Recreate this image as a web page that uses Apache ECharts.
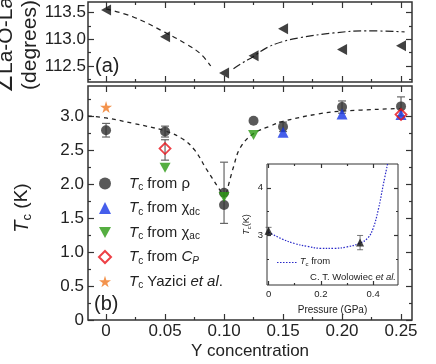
<!DOCTYPE html>
<html><head><meta charset="utf-8">
<script src="https://cdn.jsdelivr.net/npm/echarts@6/dist/echarts.min.js"></script>
<style>html,body{margin:0;padding:0;background:#fff}#c{width:436px;height:364px}</style>
</head><body><div id="c"></div><script>
// ---------- data ----------
const yConc = [0, 0.05, 0.1, 0.125, 0.15, 0.2, 0.25];
const angleVals = [113.55, 113.05, 112.37, 112.69, 113.2, 112.81, 112.88];
const angleFitLeftX = [0, 0.023, 0.05, 0.068, 0.08, 0.0887];
const angleFitLeftY = [113.57, 113.42, 113.13, 112.91, 112.73, 112.5];
const angleFitRightX = [0.108, 0.115, 0.125, 0.136, 0.15, 0.164, 0.193, 0.221, 0.253];
const angleFitRightY = [112.45, 112.55, 112.68, 112.84, 112.96, 113.03, 113.12, 113.16, 113.14];

const rhoX = [0, 0.05, 0.1, 0.1, 0.125, 0.15, 0.2, 0.25];
const rhoY = [2.79, 2.77, 1.87, 1.69, 2.93, 2.84, 3.13, 3.14];
const chiDcX = [0.15, 0.2, 0.25];
const chiDcY = [2.76, 3.03, 3.02];
const chiAcX = [0.05, 0.1, 0.125];
const chiAcY = [2.24, 1.81, 2.72];
const cpX = [0.05, 0.25];
const cpY = [2.52, 3.02];
const yazX = [0];
const yazY = [3.13];
const errX = [0, 0.05, 0.05, 0.1, 0.15, 0.2, 0.25];
const errLo = [2.69, 2.69, 2.35, 1.42, 2.77, 3.04, 3.0];
const errHi = [2.89, 2.85, 2.65, 2.32, 2.91, 3.22, 3.28];
const tcFitLeftX = [-0.0153, 0, 0.023, 0.05, 0.065, 0.075, 0.085, 0.095, 0.1];
const tcFitLeftY = [3.0, 2.97, 2.89, 2.78, 2.66, 2.5, 2.22, 1.95, 1.82];
const tcFitRightX = [0.102, 0.108, 0.114, 0.125, 0.139, 0.15, 0.18, 0.2, 0.25];
const tcFitRightY = [1.86, 2.25, 2.54, 2.74, 2.85, 2.92, 3.03, 3.07, 3.11];

const pressX = [0, 0.35];
const pressTc = [3.1, 2.85];
const pressErrLo = [3.02, 2.7];
const pressErrHi = [3.17, 3.0];
const pressCurveX = [0, 0.05, 0.1, 0.15, 0.2, 0.25, 0.3, 0.35, 0.38, 0.4, 0.42, 0.44, 0.455];
const pressCurveY = [3.07, 2.93, 2.83, 2.77, 2.73, 2.73, 2.76, 2.84, 2.95, 3.15, 3.55, 4.1, 4.5];

const xMajor = [0, 0.05, 0.1, 0.15, 0.2, 0.25];
const xMinor = [0.025, 0.075, 0.125, 0.175, 0.225];
const xLabels = ['0', '0.05', '0.10', '0.15', '0.20', '0.25'];
const angMajor = [112.5, 113.0, 113.5];
const angMinor = [112.25, 112.75, 113.25];
const angLabels = ['112.5', '113.0', '113.5'];
const tcMajor = [0, 0.5, 1.0, 1.5, 2.0, 2.5, 3.0];
const tcMinor = [0.25, 0.75, 1.25, 1.75, 2.25, 2.75, 3.25];
const tcLabels = ['0', '0.5', '1.0', '1.5', '2.0', '2.5', '3.0'];
const pMajor = [0, 0.2, 0.4];
const pMinor = [0.1, 0.3];
const pLabels = ['0', '0.2', '0.4'];
const itMajor = [3, 4];
const itMinor = [2.5, 3.5];
const itLabels = ['3', '4'];

// ---------- helpers ----------
const FONT = 'Liberation Sans, Arial, sans-serif';
const AX = '#333';
const pairs = (xs, ys) => xs.map((x, i) => [x, ys[i]]);
function lblFmt(vals, labels) {
  return v => { for (let i = 0; i < vals.length; i++) if (Math.abs(vals[i] - v) < 1e-6) return labels[i]; return ''; };
}
function axis(grid, pos, min, max, ticks, len, lbl, extra) {
  const a = {
    type: 'value', gridIndex: grid, position: pos, min: min, max: max, offset: 0, nameMoveOverlap: false,
    axisLine: { show: false, onZero: false }, splitLine: { show: false },
    axisTick: { show: true, inside: true, length: len, customValues: ticks, lineStyle: { color: AX, width: 1.2 } },
    axisLabel: { show: false }
  };
  if (lbl) {
    a.axisLabel = { show: true, customValues: lbl.vals, formatter: lblFmt(lbl.vals, lbl.labels),
      color: '#222', fontSize: lbl.size, fontFamily: FONT, margin: lbl.margin };
  }
  return Object.assign(a, extra || {});
}
function errSeries(xs, lo, hi, xi, yi, cap, color, w) {
  return {
    type: 'custom', xAxisIndex: xi, yAxisIndex: yi, silent: true, z: 1,
    data: xs.map((x, i) => [x, lo[i], hi[i]]),
    encode: { x: 0, y: [1, 2] },
    renderItem: function (params, api) {
      const x = api.value(0);
      const p1 = api.coord([x, api.value(1)]);
      const p2 = api.coord([x, api.value(2)]);
      const st = { stroke: color, lineWidth: w, fill: null };
      return { type: 'group', children: [
        { type: 'line', shape: { x1: p1[0], y1: p1[1], x2: p2[0], y2: p2[1] }, style: st },
        { type: 'line', shape: { x1: p1[0] - cap, y1: p1[1], x2: p1[0] + cap, y2: p1[1] }, style: st },
        { type: 'line', shape: { x1: p2[0] - cap, y1: p2[1], x2: p2[0] + cap, y2: p2[1] }, style: st }
      ] };
    }
  };
}
const XMIN = -0.0153, XMAX = 0.2593;
const AMIN = 112.2, AMAX = 113.7;
const TMIN = 0, TMAX = 3.44;
const PMIN = -0.006, PMAX = 0.495;
const IMIN = 1.96, IMAX = 4.5;

const xAxes = [
  axis(0, 'bottom', XMIN, XMAX, xMajor, 6),
  axis(0, 'bottom', XMIN, XMAX, xMinor, 3),
  axis(0, 'top', XMIN, XMAX, xMajor, 6),
  axis(0, 'top', XMIN, XMAX, xMinor, 3),
  axis(1, 'bottom', XMIN, XMAX, xMajor, 6, { vals: xMajor, labels: xLabels, size: 17, margin: 3 },
    { name: 'Y concentration', nameLocation: 'middle', nameGap: 23,
      nameTextStyle: { fontSize: 17, fontFamily: FONT, color: '#222' } }),
  axis(1, 'bottom', XMIN, XMAX, xMinor, 3),
  axis(1, 'top', XMIN, XMAX, xMajor, 6),
  axis(1, 'top', XMIN, XMAX, xMinor, 3),
  axis(2, 'bottom', PMIN, PMAX, pMajor, 4, { vals: pMajor, labels: pLabels, size: 9.5, margin: 4 },
    { name: 'Pressure (GPa)', nameLocation: 'middle', nameGap: 20,
      nameTextStyle: { fontSize: 10, fontFamily: FONT, color: '#222' } }),
  axis(2, 'bottom', PMIN, PMAX, pMinor, 2),
  axis(2, 'top', PMIN, PMAX, pMajor, 4),
  axis(2, 'top', PMIN, PMAX, pMinor, 2)
];
const yAxes = [
  axis(0, 'left', AMIN, AMAX, angMajor, 6, { vals: angMajor, labels: angLabels, size: 17, margin: 2 },
    { name: '∠La-O-La\n(degrees)', nameLocation: 'middle', nameRotate: 90, nameGap: 46,
      nameTextStyle: { fontSize: 21, lineHeight: 24, fontFamily: FONT, color: '#222', padding: [0, 6, 0, 0] } }),
  axis(0, 'left', AMIN, AMAX, angMinor, 3),
  axis(0, 'right', AMIN, AMAX, angMajor, 6),
  axis(0, 'right', AMIN, AMAX, angMinor, 3),
  axis(1, 'left', TMIN, TMAX, tcMajor, 6, { vals: tcMajor, labels: tcLabels, size: 17, margin: 4 },
    { name: '{it|T}{sub|c}{n| (K)}', nameLocation: 'middle', nameRotate: 90, nameGap: 54,
      nameTextStyle: { fontFamily: FONT, color: '#222', padding: [0, 10, 0, 0], rich: {
        it: { fontSize: 20, fontStyle: 'italic', fontFamily: FONT, lineHeight: 24 },
        sub: { fontSize: 13, fontFamily: FONT, verticalAlign: 'bottom', lineHeight: 13 },
        n: { fontSize: 19, fontFamily: FONT, lineHeight: 24 } } } }),
  axis(1, 'left', TMIN, TMAX, tcMinor, 3),
  axis(1, 'right', TMIN, TMAX, tcMajor, 6),
  axis(1, 'right', TMIN, TMAX, tcMinor, 3),
  axis(2, 'left', IMIN, IMAX, itMajor, 4, { vals: itMajor, labels: itLabels, size: 9.5, margin: 4 },
    { name: '{it|T}{sub|c}{n|(K)}', nameLocation: 'middle', nameRotate: 90, nameGap: 15,
      nameTextStyle: { fontFamily: FONT, color: '#222', rich: {
        it: { fontSize: 9, fontStyle: 'italic', fontFamily: FONT, lineHeight: 11 },
        sub: { fontSize: 6, fontFamily: FONT, verticalAlign: 'bottom', lineHeight: 6 },
        n: { fontSize: 9, fontFamily: FONT, lineHeight: 11 } } } }),
  axis(2, 'left', IMIN, IMAX, itMinor, 2),
  axis(2, 'right', IMIN, IMAX, itMajor, 4),
  axis(2, 'right', IMIN, IMAX, itMinor, 2)
];

const C_RHO = '#2f2f2f', C_DC = '#1636e6', C_AC = '#2a9a12', C_CP = '#e81018', C_YAZ = '#f07820';
const STAR = 'path://M50,0 L61,35 L98,35 L68,57 L79,91 L50,70 L21,91 L32,57 L2,35 L39,35 Z';
const DOWN_TRI = 'path://M0,0 L10,0 L5,9 Z';
const LEFT_TRI = 'path://M0,5 L9,0 L9,10 Z';
const legNames = {
  'rho': '{it|T}{sub|c}{n| from ρ}',
  'chidc': '{it|T}{sub|c}{n| from χ}{sub|dc}',
  'chiac': '{it|T}{sub|c}{n| from χ}{sub|ac}',
  'cp': '{it|T}{sub|c}{n| from }{it|C}{subi|P}',
  'yaz': '{it|T}{sub|c}{n| Yazici }{it|et al}{n|.}'
};
const legRich = {
  it: { fontSize: 15, fontStyle: 'italic', fontFamily: FONT, color: '#222', lineHeight: 18 },
  n: { fontSize: 15, fontFamily: FONT, color: '#222', lineHeight: 18 },
  sub: { fontSize: 10, fontFamily: FONT, color: '#222', verticalAlign: 'bottom', lineHeight: 10 },
  subi: { fontSize: 10, fontStyle: 'italic', fontFamily: FONT, color: '#222', verticalAlign: 'bottom', lineHeight: 10 }
};
const gridBase = { outerBoundsMode: 'none', containLabel: false, show: true, borderColor: AX };

const option = {
  animation: false,
  backgroundColor: '#fff',
  grid: [
    Object.assign({ left: 88, width: 324, top: 2, height: 80, borderWidth: 1.5, backgroundColor: 'transparent' }, gridBase),
    Object.assign({ left: 88, width: 324, top: 86, height: 234, borderWidth: 1.5, backgroundColor: 'transparent' }, gridBase),
    Object.assign({ left: 267, width: 131, top: 164, height: 121, borderWidth: 1, backgroundColor: '#fff' }, gridBase)
  ],
  xAxis: xAxes,
  yAxis: yAxes,
  legend: [
    { orient: 'vertical', left: 93, top: 171, itemWidth: 12, itemHeight: 12, itemGap: 8,
      data: ['rho', 'chidc', 'chiac', 'cp', 'yaz'],
      formatter: n => legNames[n],
      textStyle: { padding: [0, 0, 0, 13], rich: legRich } }
  ],
  graphic: [
    { type: 'text', left: 95, top: 56, style: { text: '(a)', fontSize: 20, fontFamily: FONT, fill: '#222' } },
    { type: 'text', left: 94, top: 294, style: { text: '(b)', fontSize: 20, fontFamily: FONT, fill: '#222' } },
    { type: 'line', z: 100, shape: { x1: 277, y1: 262.5, x2: 297, y2: 262.5 },
      style: { stroke: '#2828c8', lineWidth: 1.2, lineDash: [1.5, 1.5] } },
    { type: 'text', left: 300, top: 256, z: 100, style: { text: '{it|T}{sub|c}{n| from}', rich: {
      it: { fontSize: 9, fontStyle: 'italic', fontFamily: FONT, fill: '#222', lineHeight: 12 },
      n: { fontSize: 9.5, fontFamily: FONT, fill: '#222', lineHeight: 12 },
      sub: { fontSize: 6, fontFamily: FONT, fill: '#222', verticalAlign: 'bottom', lineHeight: 6 } } } },
    { type: 'text', right: 40, top: 272, z: 100, style: { text: '{n|C. T. Wolowiec }{i|et al.}', rich: {
      n: { fontSize: 9.5, fontFamily: FONT, fill: '#222' },
      i: { fontSize: 9.5, fontStyle: 'italic', fontFamily: FONT, fill: '#222' } } } }
  ],
  series: [
    // top panel
    { type: 'line', xAxisIndex: 0, yAxisIndex: 0, data: pairs(angleFitLeftX, angleFitLeftY), symbol: 'none', smooth: 0.4,
      lineStyle: { color: '#222', width: 1.2, type: [5, 4] }, silent: true },
    { type: 'line', xAxisIndex: 0, yAxisIndex: 0, data: pairs(angleFitRightX, angleFitRightY), symbol: 'none', smooth: 0.4,
      lineStyle: { color: '#222', width: 1.2, type: [8, 3, 2, 3] }, silent: true },
    { type: 'scatter', xAxisIndex: 0, yAxisIndex: 0, data: pairs(yConc, angleVals), symbol: LEFT_TRI,
      symbolSize: [10, 11], itemStyle: { color: '#111' }, z: 3 },
    // bottom panel
    { type: 'line', xAxisIndex: 4, yAxisIndex: 4, data: pairs(tcFitLeftX, tcFitLeftY), symbol: 'none', smooth: 0.4,
      lineStyle: { color: '#222', width: 1.3, type: [4, 4] }, silent: true },
    { type: 'line', xAxisIndex: 4, yAxisIndex: 4, data: pairs(tcFitRightX, tcFitRightY), symbol: 'none', smooth: 0.4,
      lineStyle: { color: '#222', width: 1.3, type: [4, 4] }, silent: true },
    errSeries(errX, errLo, errHi, 4, 4, 4, '#666', 1.2),
    { name: 'rho', type: 'scatter', xAxisIndex: 4, yAxisIndex: 4, data: pairs(rhoX, rhoY), symbol: 'circle', symbolSize: 10,
      itemStyle: { color: C_RHO }, z: 3 },
    { name: 'chidc', type: 'scatter', xAxisIndex: 4, yAxisIndex: 4, data: pairs(chiDcX, chiDcY), symbol: 'triangle', symbolSize: 11,
      itemStyle: { color: C_DC }, z: 4 },
    { name: 'chiac', type: 'scatter', xAxisIndex: 4, yAxisIndex: 4, data: pairs(chiAcX, chiAcY), symbol: DOWN_TRI,
      symbolSize: [11, 10], itemStyle: { color: C_AC }, z: 4 },
    { name: 'cp', type: 'scatter', xAxisIndex: 4, yAxisIndex: 4, data: pairs(cpX, cpY), symbol: 'diamond', symbolSize: 11,
      itemStyle: { color: 'rgba(255,255,255,0)', borderColor: C_CP, borderWidth: 1.8 }, z: 5 },
    { name: 'yaz', type: 'scatter', xAxisIndex: 4, yAxisIndex: 4, data: pairs(yazX, yazY), symbol: STAR, symbolSize: 12,
      itemStyle: { color: C_YAZ }, z: 4 },
    // inset
    { name: 'pcurve', type: 'line', xAxisIndex: 8, yAxisIndex: 8, data: pairs(pressCurveX, pressCurveY), symbol: 'none', smooth: 0.4,
      clip: true, lineStyle: { color: '#2828c8', width: 1.2, type: [1.5, 1.5] }, z: 10 },
    Object.assign(errSeries(pressX, pressErrLo, pressErrHi, 8, 8, 3, '#555', 0.8), { z: 10 }),
    { type: 'scatter', xAxisIndex: 8, yAxisIndex: 8, data: pairs(pressX, pressTc), symbol: 'triangle', symbolSize: 8,
      itemStyle: { color: '#111' }, z: 11 }
  ]
};
const chart = echarts.init(document.getElementById('c'), null, { renderer: 'canvas' });
chart.setOption(option);
</script></body></html>
